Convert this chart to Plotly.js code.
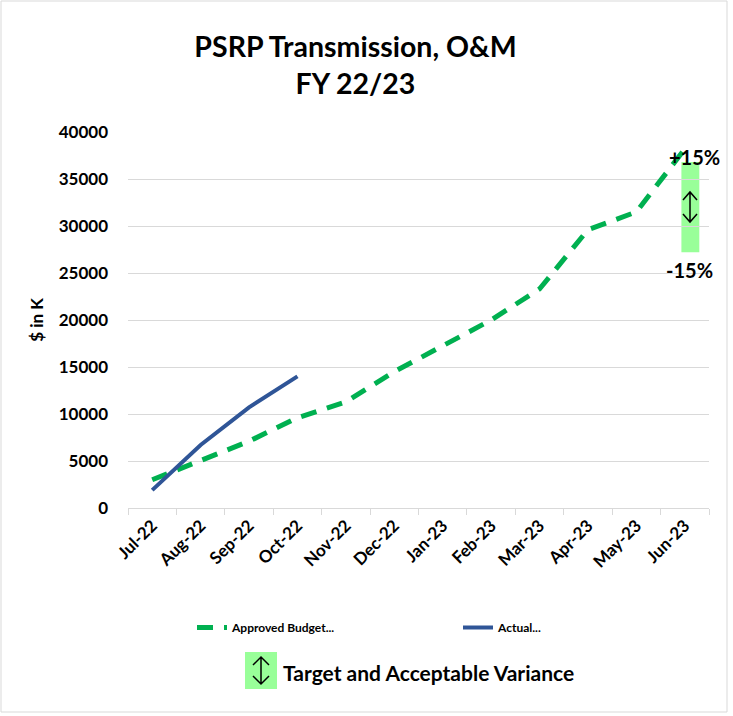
<!DOCTYPE html>
<html>
<head>
<meta charset="utf-8">
<script src="https://cdn.plot.ly/plotly-3.0.1.min.js"></script>
<style>
html,body{margin:0;padding:0;background:#fff;}
#chart{width:733px;height:716px;}
</style>
</head>
<body>
<div id="chart"></div>
<script>
// ---- Data ----
const months = ["Jul-22","Aug-22","Sep-22","Oct-22","Nov-22","Dec-22","Jan-23","Feb-23","Mar-23","Apr-23","May-23","Jun-23"];
const approvedBudget = [3000, 5000, 7100, 9600, 11300, 14500, 17300, 20000, 23300, 29600, 31500, 38200];
const actual = [1900, 6700, 10700, 14000, null, null, null, null, null, null, null, null];
const yTicks = [0, 5000, 10000, 15000, 20000, 25000, 30000, 35000, 40000];
const varianceBand = [27200, 36800]; // decorative target band shown near Jun-23
const seriesNames = ["Approved Budget...", "Actual..."];

// ---- Layout geometry ----
const W = 733, H = 716;
const L = 128, R = 709, T = 132, B = 508;
const FONT = "Lato, 'Open Sans', sans-serif";
function px(X){ return (X - L) / (R - L); }
function py(Y){ return (B - Y) / (B - T); }
function arrowPath(cx, top, bot, hw, hh){
  return "M" + px(cx) + "," + py(top) + " L" + px(cx) + "," + py(bot) +
    " M" + px(cx - hw) + "," + py(top + hh) + " L" + px(cx) + "," + py(top) + " L" + px(cx + hw) + "," + py(top + hh) +
    " M" + px(cx - hw) + "," + py(bot - hh) + " L" + px(cx) + "," + py(bot) + " L" + px(cx + hw) + "," + py(bot - hh);
}

const traces = [
  {
    x: months, y: approvedBudget, type: "scatter", mode: "lines",
    name: seriesNames[0],
    line: {color: "#00B050", width: 5, dash: "16px,11px"},
    legend: "legend",
    hoverinfo: "x+y"
  },
  {
    x: months, y: actual, type: "scatter", mode: "lines",
    name: seriesNames[1],
    line: {color: "#2F5597", width: 4},
    connectgaps: false,
    legend: "legend2",
    hoverinfo: "x+y"
  }
];

const legendBase = {
  orientation: "h",
  xanchor: "left",
  y: py(613), yanchor: "top",
  font: {family: FONT, size: 12, color: "#000", weight: "bold"},
  bgcolor: "rgba(0,0,0,0)"
};

const layout = {
  width: W, height: H,
  margin: {l: L, r: W - R, t: T, b: H - B, pad: 0},
  paper_bgcolor: "#fff", plot_bgcolor: "#fff",
  font: {family: FONT, color: "#000", weight: "bold"},
  title: {
    text: "PSRP Transmission, O&M<br>FY 22/23",
    font: {family: FONT, size: 28.5, color: "#000", weight: "bold"},
    x: 355.5 / W, xanchor: "center",
    y: 1 - 57 / H, yanchor: "top"
  },
  xaxis: {
    type: "category",
    categoryorder: "array", categoryarray: months,
    range: [-0.5, 11.5],
    showgrid: false, zeroline: false,
    showline: true, linecolor: "#D9D9D9", linewidth: 1,
    ticks: "outside", ticklen: 6, tickcolor: "#D9D9D9", tickwidth: 1,
    tickson: "boundaries",
    tickangle: -45,
    tickfont: {family: FONT, size: 17, color: "#000", weight: "bold"},
    automargin: false,
    fixedrange: true
  },
  yaxis: {
    range: [0, 40000],
    tickvals: yTicks,
    ticktext: yTicks.map(String),
    showgrid: true, gridcolor: "#D9D9D9", gridwidth: 1,
    zeroline: false, showline: false, ticks: "",
    ticklabelstandoff: 19,
    tickfont: {family: FONT, size: 17, color: "#000", weight: "bold"},
    title: {text: "$ in K", font: {family: FONT, size: 17, color: "#000", weight: "bold"}, standoff: 10},
    automargin: false,
    fixedrange: true
  },
  showlegend: true,
  legend: Object.assign({}, legendBase, {x: px(192)}),
  legend2: Object.assign({}, legendBase, {x: px(458)}),
  shapes: [
    // variance band near the last month
    {type: "rect", xref: "x", yref: "y", x0: 10.93, x1: 11.30, y0: varianceBand[0], y1: varianceBand[1],
     fillcolor: "#99FF99", line: {width: 0}, layer: "below"},
    {type: "path", xref: "paper", yref: "paper", path: arrowPath(690, 192, 222, 7, 8),
     line: {color: "#000", width: 1.5}},
    // bottom key box
    {type: "rect", xref: "paper", yref: "paper", x0: px(245), x1: px(277), y0: py(689), y1: py(652),
     fillcolor: "#99FF99", line: {width: 0}},
    {type: "path", xref: "paper", yref: "paper", path: arrowPath(261, 657, 684, 8, 8),
     line: {color: "#000", width: 1.5}},
    // outer chart border
    {type: "rect", xref: "paper", yref: "paper", x0: px(1), x1: px(727), y0: py(712), y1: py(1),
     line: {color: "#D9D9D9", width: 1}, fillcolor: "rgba(0,0,0,0)"}
  ],
  annotations: [
    {xref: "paper", yref: "paper", x: px(694), y: py(157), text: "+15%", showarrow: false,
     xanchor: "center", yanchor: "middle", font: {family: FONT, size: 20, color: "#000", weight: "bold"}},
    {xref: "paper", yref: "paper", x: px(689), y: py(270), text: "-15%", showarrow: false,
     xanchor: "center", yanchor: "middle", font: {family: FONT, size: 20, color: "#000", weight: "bold"}},
    {xref: "paper", yref: "paper", x: px(281), y: py(672), text: "Target and Acceptable Variance", showarrow: false,
     xanchor: "left", yanchor: "middle", font: {family: FONT, size: 21, color: "#000", weight: "bold"}}
  ]
};

Plotly.newPlot("chart", traces, layout, {displayModeBar: false, staticPlot: true});
</script>
</body>
</html>
